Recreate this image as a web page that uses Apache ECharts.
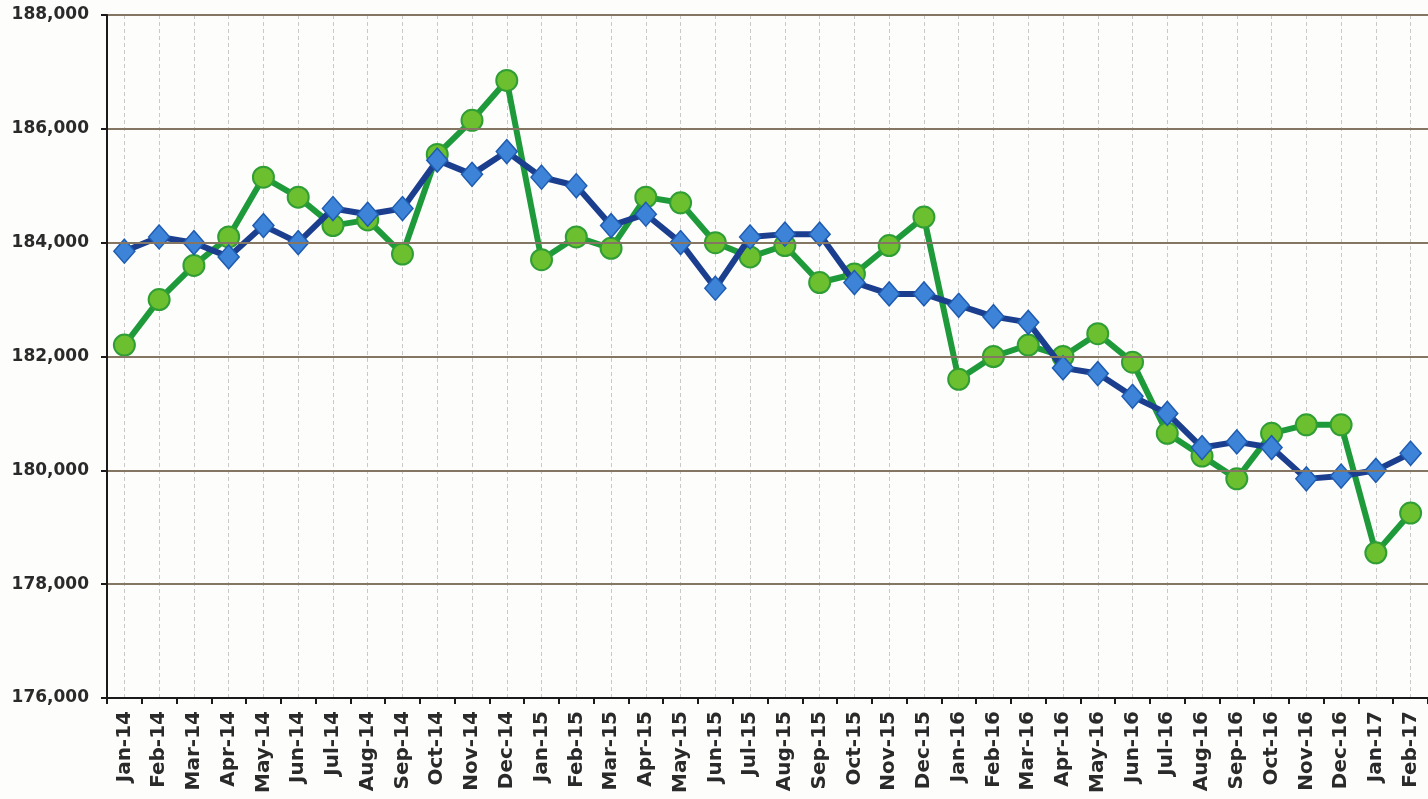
<!DOCTYPE html>
<html>
<head>
<meta charset="utf-8">
<script src="https://cdn.jsdelivr.net/npm/echarts@6/dist/echarts.min.js"></script>
<style>
html,body{margin:0;padding:0;background:#fdfdfc;}
#chart{width:1428px;height:799px;}
</style>
</head>
<body>
<div id="chart"></div>
<script>
const categories = ['Jan-14','Feb-14','Mar-14','Apr-14','May-14','Jun-14','Jul-14','Aug-14','Sep-14','Oct-14','Nov-14','Dec-14',
'Jan-15','Feb-15','Mar-15','Apr-15','May-15','Jun-15','Jul-15','Aug-15','Sep-15','Oct-15','Nov-15','Dec-15',
'Jan-16','Feb-16','Mar-16','Apr-16','May-16','Jun-16','Jul-16','Aug-16','Sep-16','Oct-16','Nov-16','Dec-16',
'Jan-17','Feb-17'];

const greenSeries = [182200,183000,183600,184100,185150,184800,184300,184400,183800,185550,186150,186850,
183700,184100,183900,184800,184700,184000,183750,183950,183300,183450,183950,184450,
181600,182000,182200,182000,182400,181900,180650,180250,179850,180650,180800,180800,
178550,179250];

const blueSeries = [183850,184100,184000,183750,184300,184000,184600,184500,184600,185450,185200,185600,
185150,185000,184300,184500,184000,183200,184100,184150,184150,183300,183100,183100,
182900,182700,182600,181800,181700,181300,181000,180400,180500,180400,179850,179900,
180000,180300];

const yMin = 176000, yMax = 188000, yStep = 2000;

// helper axis: half-category positions for vertical grid lines through category centres
const halfSteps = [];
for (let i = 0; i <= categories.length * 2; i++) halfSteps.push(String(i));

const chart = echarts.init(document.getElementById('chart'));
const labelFont = 'DejaVu Sans';
chart.setOption({
  backgroundColor: '#fdfdfc',
  animation: false,
  grid: { left: 107, right: 0, top: 15, bottom: 101, containLabel: false },
  xAxis: [
    {
      type: 'category',
      data: categories,
      boundaryGap: true,
      axisLine: { show: true, onZero: false, lineStyle: { color: '#1a1a1a', width: 2 } },
      axisTick: { show: true, length: 6, lineStyle: { color: '#1a1a1a', width: 2 } },
      axisLabel: { rotate: 90, margin: 13, color: '#2a2a2a', fontFamily: labelFont, fontWeight: 'bold', fontSize: 20, interval: 0 },
      splitLine: { show: false },
      z: 5
    },
    {
      type: 'category',
      data: halfSteps,
      boundaryGap: false,
      position: 'bottom',
      axisLine: { show: false },
      axisTick: { show: false },
      axisLabel: { show: false },
      splitLine: {
        show: true,
        interval: function (idx) { return idx % 2 === 1; },
        lineStyle: { color: '#c9c9c9', width: 1, type: [4, 3] }
      }
    }
  ],
  yAxis: {
    type: 'value',
    min: yMin,
    max: yMax,
    interval: yStep,
    axisLine: { show: true, lineStyle: { color: '#1a1a1a', width: 2 } },
    axisTick: { show: true, length: 6, lineStyle: { color: '#1a1a1a', width: 2 } },
    axisLabel: {
      margin: 18,
      color: '#2a2a2a',
      fontFamily: labelFont,
      fontWeight: 'bold',
      fontSize: 17,
      formatter: function (v) { return v.toLocaleString('en-US'); }
    },
    splitLine: { show: true, lineStyle: { color: '#857563', width: 2 } },
    z: 5
  },
  series: [
    {
      name: 'green',
      type: 'line',
      data: greenSeries,
      xAxisIndex: 0,
      symbol: 'circle',
      symbolSize: 21,
      lineStyle: { color: '#1f9a3a', width: 6 },
      itemStyle: { color: '#6cbf2f', borderColor: '#2f9e34', borderWidth: 2 },
      z: 3
    },
    {
      name: 'blue',
      type: 'line',
      data: blueSeries,
      xAxisIndex: 0,
      symbol: 'diamond',
      symbolSize: [21, 24],
      lineStyle: { color: '#1b3f8e', width: 6 },
      itemStyle: { color: '#3d84d9', borderColor: '#1f5cb0', borderWidth: 1.5 },
      z: 4
    }
  ]
});
</script>
</body>
</html>
